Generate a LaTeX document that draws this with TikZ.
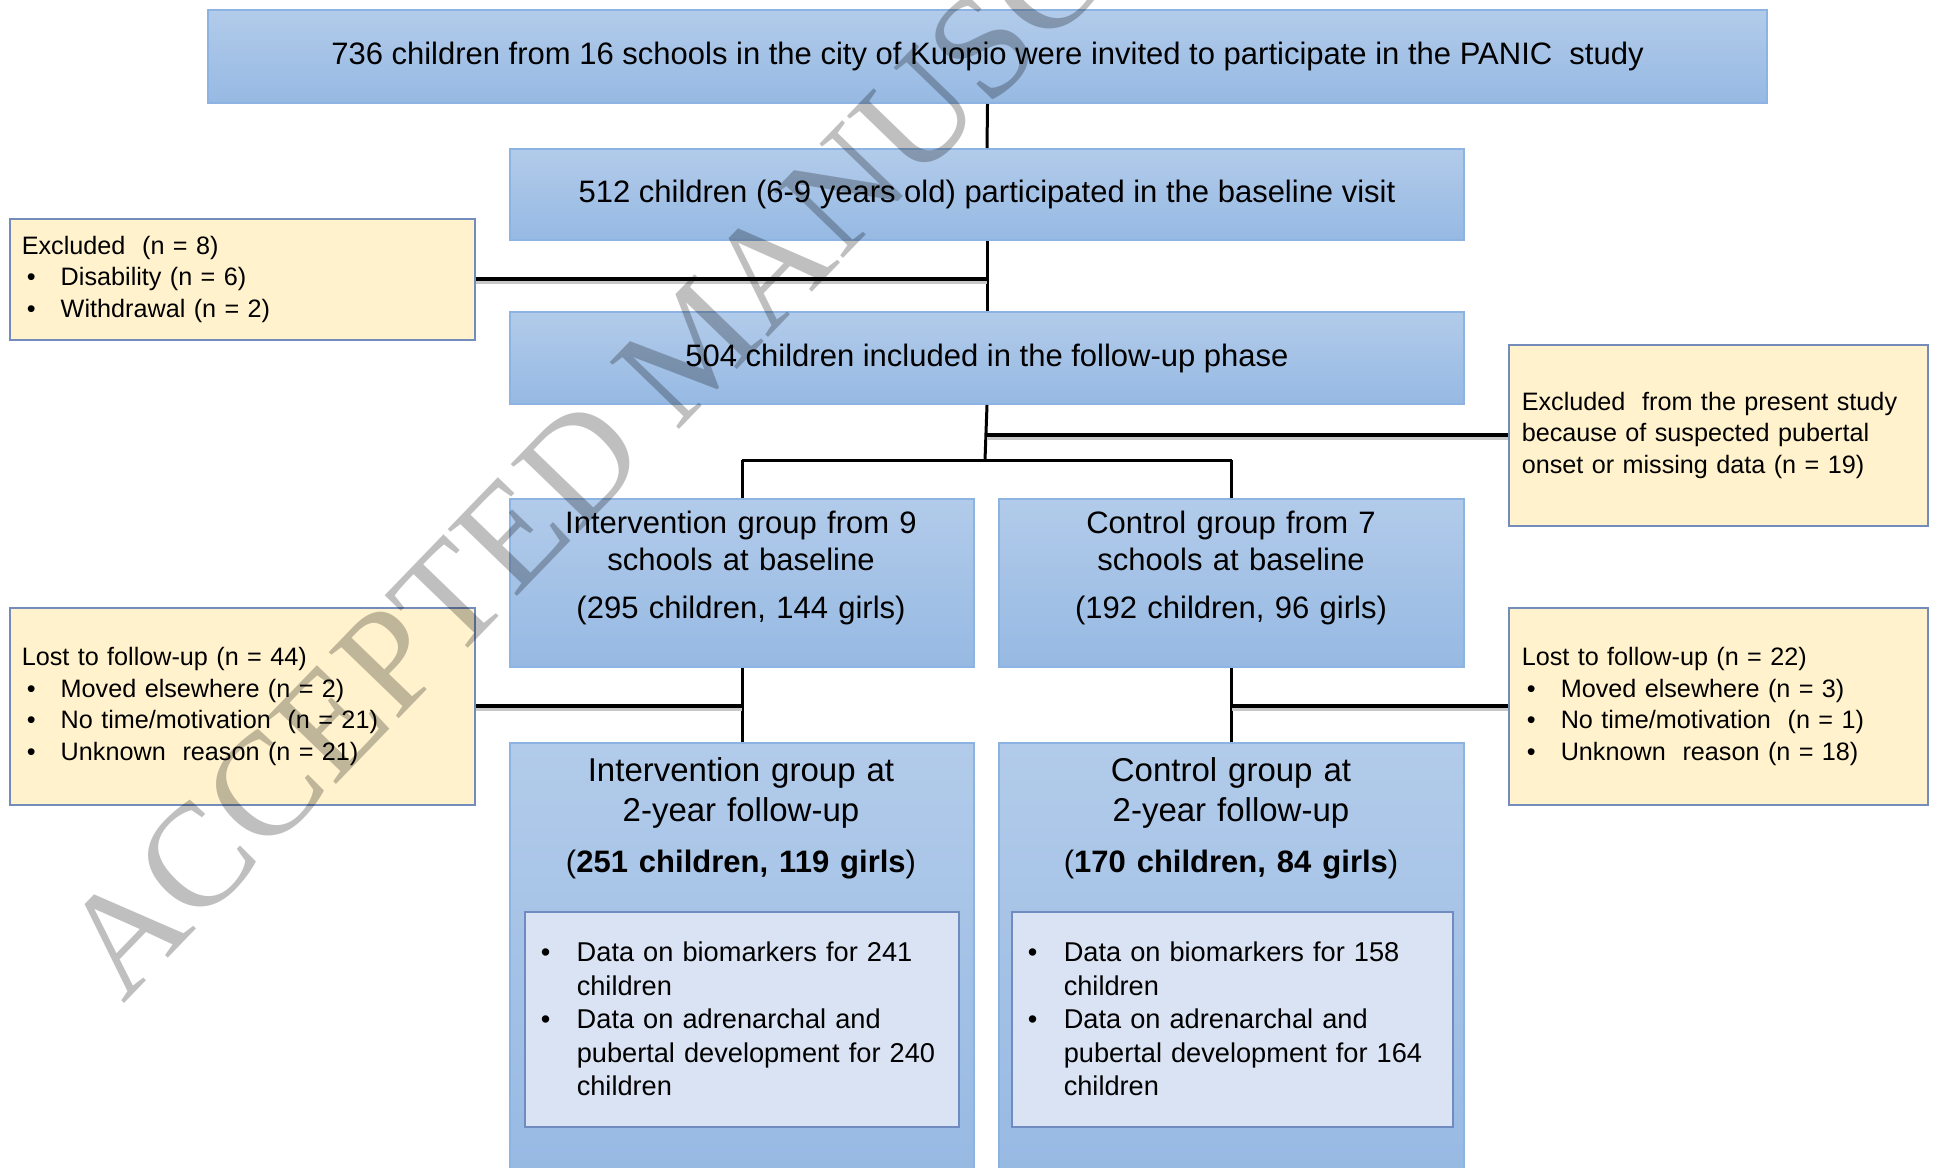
\documentclass[tikz,border=0pt]{standalone}
\usepackage{fontspec}
\setmainfont{Liberation Sans}
\newfontfamily\stampfont{Liberation Serif}

\definecolor{bluetop}{RGB}{178,203,234}
\definecolor{bluebot}{RGB}{150,185,227}
\definecolor{blueline}{RGB}{141,179,226}
\definecolor{notefill}{RGB}{255,242,204}
\definecolor{noteline}{RGB}{115,140,188}
\definecolor{datafill}{RGB}{218,227,243}
\definecolor{dataline}{RGB}{111,139,192}

% bullet with hanging indent
\newcommand{\notedot}{\makebox[39pt][l]{\hspace*{5pt}•}}
\newcommand{\datadot}{\makebox[36pt][l]{•}}

\tikzset{
  stagebox/.style={draw=blueline, line width=2pt, top color=bluetop, bottom color=bluebot,
    anchor=north west, inner sep=0pt, font=\fontsize{31}{37}\selectfont},
  notebox/.style={draw=noteline, line width=1.5pt, fill=notefill, anchor=north west,
    align=left, inner ysep=0pt, font=\fontsize{25.2}{31.5}\selectfont},
  databox/.style={draw=dataline, line width=1.5pt, fill=datafill, anchor=north west,
    align=left, inner ysep=0pt, inner xsep=16pt, font=\fontsize{27.2}{33.5}\selectfont},
  grouptext/.style={anchor=north, inner sep=0pt, text width=440pt, align=center},
  link/.style={line width=3pt},
  sidelink/.style={line width=4pt, preaction={draw=black!22, line width=4pt, transform canvas={yshift=-2.5pt}}},
  stamp/.style={text=black, text opacity=0.25, font=\stampfont\fontsize{147}{147}\selectfont, inner sep=0pt}
}

\begin{document}
\begin{tikzpicture}[x=1pt,y=-1pt]
\clip (0,0) rectangle (1934,1167);

% main stages
\node[stagebox, minimum width=1559pt, minimum height=93pt] (invite) at (207,9)
  {736 children from 16 schools in the city of Kuopio were invited to participate in the PANIC~ study};
\node[stagebox, minimum width=954pt, minimum height=91pt] (base) at (509,148)
  {512 children (6-9 years old) participated in the baseline visit};
\node[stagebox, minimum width=954pt, minimum height=92pt] (follow) at (509,311)
  {504 children included in the follow-up phase};

% groups at baseline
\node[stagebox, minimum width=464pt, minimum height=168pt] (ib) at (509,498) {};
\node[stagebox, minimum width=465pt, minimum height=168pt] (cb) at (998,498) {};
\node[grouptext, font=\fontsize{31}{37}\selectfont] (ibtext) at (741,511)
  {Intervention group from 9\\schools at baseline\par\vspace{11pt}(295 children, 144 girls)};
\node[grouptext, font=\fontsize{31}{37}\selectfont] (cbtext) at (1231,511)
  {Control group from 7\\schools at baseline\par\vspace{11pt}(192 children, 96 girls)};

% groups at follow-up
\node[stagebox, minimum width=464pt, minimum height=440pt] (ifu) at (509,742) {};
\node[stagebox, minimum width=465pt, minimum height=440pt] (cfu) at (998,742) {};
\node[grouptext, font=\fontsize{33}{40}\selectfont] (ifutext) at (741,757)
  {Intervention group at\\2-year follow-up\par\vspace{11pt}\fontsize{31}{37}\selectfont(\textbf{251 children, 119 girls})};
\node[grouptext, font=\fontsize{33}{40}\selectfont] (cfutext) at (1231,757)
  {Control group at\\2-year follow-up\par\vspace{11pt}\fontsize{31}{37}\selectfont(\textbf{170 children, 84 girls})};

\node[databox, minimum width=434pt, minimum height=215pt, text width=402pt] (idata) at (524,911)
  {\datadot Data on biomarkers for 241\\\hspace*{36pt}children\\
   \datadot Data on adrenarchal and\\\hspace*{36pt}pubertal development for 240\\\hspace*{36pt}children};
\node[databox, minimum width=441pt, minimum height=215pt, text width=409pt] (cdata) at (1011,911)
  {\datadot Data on biomarkers for 158\\\hspace*{36pt}children\\
   \datadot Data on adrenarchal and\\\hspace*{36pt}pubertal development for 164\\\hspace*{36pt}children};

% side notes
\node[notebox, minimum width=465pt, minimum height=121pt, inner xsep=12pt, text width=441pt] (excl) at (9,218)
  {Excluded~ (n = 8)\\\notedot Disability (n = 6)\\\notedot Withdrawal (n = 2)};
\node[notebox, minimum width=419pt, minimum height=181pt, inner xsep=13pt, text width=393pt] (drop) at (1508,344)
  {Excluded~ from the present study\\because of suspected pubertal\\onset or missing data (n = 19)};
\node[notebox, minimum width=465pt, minimum height=197pt, inner xsep=12pt, text width=441pt] (lostl) at (9,607)
  {Lost to follow-up (n = 44)\\\notedot Moved elsewhere (n = 2)\\\notedot No time/motivation~ (n = 21)\\\notedot Unknown~ reason (n = 21)};
\node[notebox, minimum width=419pt, minimum height=197pt, inner xsep=13pt, text width=393pt] (lostr) at (1508,607)
  {Lost to follow-up (n = 22)\\\notedot Moved elsewhere (n = 3)\\\notedot No time/motivation~ (n = 1)\\\notedot Unknown~ reason (n = 18)};

% connectors
\coordinate (split) at (985,460);
\draw[link] (invite.south) -- (base.north);
\draw[link] (base.south) -- (follow.north);
\draw[sidelink] (excl.east) -- (excl.east -| base.south);
\draw[link] (follow.south) -- (split);
\draw[sidelink] (follow.south |- drop.west) -- (drop.west);
\draw[link] (ib.north |- split) -- (cb.north |- split);
\draw[link] (ib.north |- split) -- (ib.north);
\draw[link] (cb.north |- split) -- (cb.north);
\draw[link] (ib.south) -- (ifu.north);
\draw[link] (cb.south) -- (cfu.north);
\draw[sidelink] (lostl.east) -- (lostl.east -| ib.south);
\draw[sidelink] (cb.south |- lostr.west) -- (lostr.west);

% watermark
\node[stamp, rotate=46, anchor=base west] (mark) at (123,1005) {ACCEPTED MANUSCRIPT};
\end{tikzpicture}
\end{document}
